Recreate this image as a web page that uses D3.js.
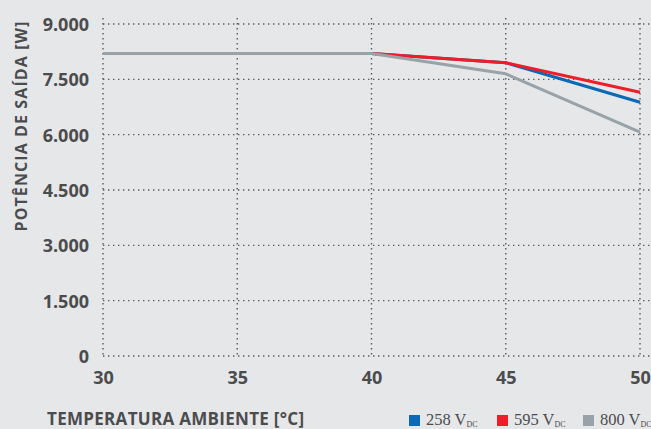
<!DOCTYPE html>
<html><head><meta charset="utf-8">
<script src="https://cdn.jsdelivr.net/npm/d3@7"></script>
<style>
body{margin:0;background:#e6e7e8;}
svg{display:block;}
</style></head><body>
<svg id="c" width="651" height="429"></svg>
<script>
const temps = [30, 35, 40, 45, 50];
const v258 = [8200, 8200, 8200, 7950, 6880];
const v595 = [8200, 8200, 8200, 7950, 7150];
const v800 = [8200, 8200, 8200, 7650, 6070];
const yTicks = [0, 1500, 3000, 4500, 6000, 7500, 9000];
const xTicks = [30, 35, 40, 45, 50];
const seriesNames = ["258", "595", "800"];
const seriesColors = ["#0a68b4", "#ee1d27", "#98a2a8"];

const svg = d3.select("#c");
const x = d3.scaleLinear().domain([30, 50]).range([103, 640]);
const y = d3.scaleLinear().domain([0, 9000]).range([356, 24]);
const txt = "#4b4c4e";
const font = "'Open Sans', sans-serif";

svg.append("rect").attr("width", 651).attr("height", 429).attr("fill", "#e6e7e8");

// grid
const g = svg.append("g");
g.selectAll("line.h").data(yTicks).join("line")
  .attr("x1", 103).attr("x2", 651)
  .attr("y1", d => y(d)).attr("y2", d => y(d))
  .attr("stroke", "#5a5b5d").attr("stroke-width", 1.4).attr("stroke-dasharray", "1.4,3.6");
g.selectAll("line.v").data(xTicks).join("line")
  .attr("x1", d => x(d)).attr("x2", d => x(d))
  .attr("y1", 18).attr("y2", 358)
  .attr("stroke", "#5a5b5d").attr("stroke-width", 1.4).attr("stroke-dasharray", "1.4,3.6");

// y axis labels
const yAxis = d3.axisLeft(y).tickValues(yTicks).tickSize(0).tickPadding(14)
  .tickFormat(d => d3.format(",")(d).replace(/,/g, "."));
const ya = svg.append("g").attr("transform", "translate(103,0)").call(yAxis);
ya.select(".domain").remove();
ya.selectAll("text").attr("font-family", font).attr("font-weight", 700).attr("font-size", 18)
  .attr("fill", txt).attr("dy", "0.36em");

const xAxis = d3.axisBottom(x).tickValues(xTicks).tickSize(0).tickPadding(0);
const xa = svg.append("g").attr("transform", "translate(0,384)").call(xAxis);
xa.select(".domain").remove();
xa.selectAll("text").attr("font-family", font).attr("font-weight", 700).attr("font-size", 18)
  .attr("fill", txt).attr("dy", 0);

// lines
const line = d3.line().x((d, i) => x(temps[i])).y(d => y(d));
const data = [v258, v595, v800];
data.forEach((vals, i) => {
  svg.append("path").datum(vals).attr("d", line).attr("fill", "none")
    .attr("stroke", seriesColors[i]).attr("stroke-width", 3).attr("stroke-linejoin", "round");
});

// axis titles
svg.append("text").attr("transform", "translate(27,126) rotate(-90)")
  .attr("text-anchor", "middle").attr("font-family", font).attr("font-weight", 700)
  .attr("font-size", 16).attr("letter-spacing", 1.1).attr("fill", txt)
  .text("POTÊNCIA DE SAÍDA [W]");
svg.append("text").attr("x", 47).attr("y", 425)
  .attr("font-family", font).attr("font-weight", 700)
  .attr("font-size", 17).attr("letter-spacing", 0.3).attr("fill", txt)
  .text("TEMPERATURA AMBIENTE [°C]");

// legend
const legX = [409, 497, 583];
seriesNames.forEach((n, i) => {
  svg.append("rect").attr("x", legX[i]).attr("y", 415).attr("width", 11).attr("height", 11)
    .attr("fill", seriesColors[i]);
  const t = svg.append("text").attr("x", legX[i] + 17).attr("y", 425)
    .attr("font-family", "'Liberation Serif', serif").attr("font-size", 16.5).attr("fill", txt);
  t.append("tspan").text(n + " V");
  t.append("tspan").attr("font-size", 8).attr("dy", 2).text("DC");
});
</script>
</body></html>
